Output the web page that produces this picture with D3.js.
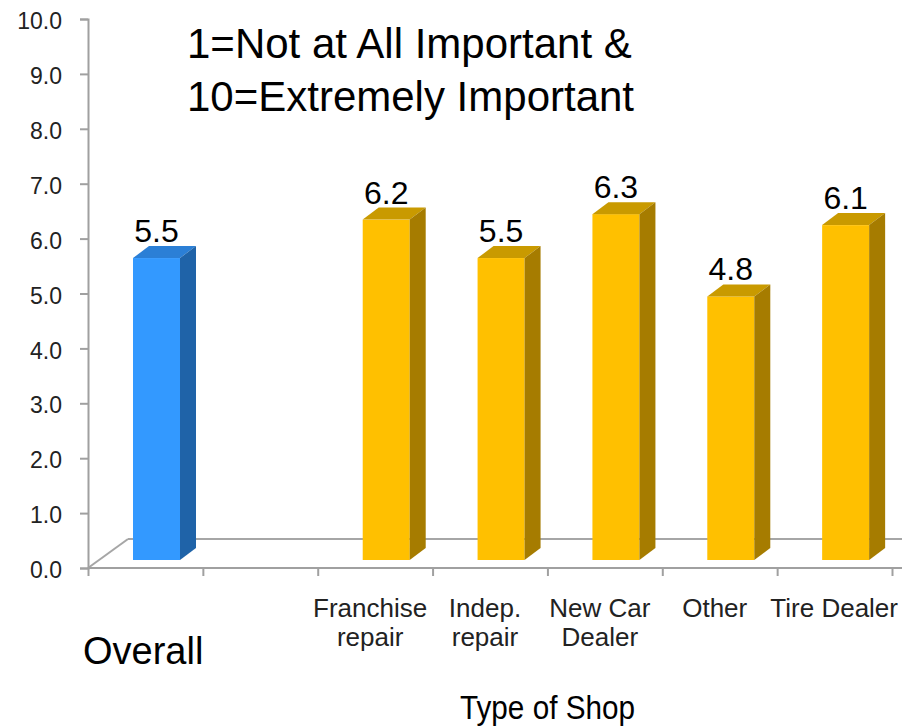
<!DOCTYPE html>
<html lang="en">
<head>
    <meta charset="UTF-8">
    <title>Importance by Type of Shop</title>
    <script src="https://cdnjs.cloudflare.com/ajax/libs/d3/7.8.5/d3.min.js"></script>
</head>
<style>
    body{
        margin:0;
        background:#fff;
    }
    #chart text{
        font-family:"Liberation Sans", Arial, sans-serif;
        fill:#000;
    }
</style>
<body>
<div id="chart"></div>
</body>
</html>
<script>
    // chart values
    var shopTypes = ["Franchise repair", "Indep. repair", "New Car Dealer", "Other", "Tire Dealer"];
    var shopScores = [6.2, 5.5, 6.3, 4.8, 6.1];
    var shopLabels = [["Franchise", "repair"], ["Indep.", "repair"], ["New Car", "Dealer"], ["Other"], ["Tire Dealer"]];
    var overallName = "Overall";
    var overallScore = 5.5;
    var yTicks = [0, 1, 2, 3, 4, 5, 6, 7, 8, 9, 10];
    var titleLines = ["1=Not at All Important &", "10=Extremely Important"];
    var axisTitle = "Type of Shop";

    (function(){
        var width = 902,
            height = 727;

        // 3d look: floor depth and bar depth
        var floorDx = 40, floorDy = -29,
            barOffY = -8,
            barDx = 16, barDy = -12,
            barW = 47;

        var svg = d3.select("#chart")
            .append("svg")
            .attr("width", width)
            .attr("height", height);

        var domain = [overallName, "_gap"].concat(shopTypes);
        var values = [overallScore, null].concat(shopScores);

        var x = d3.scaleBand()
            .domain(domain)
            .range([88, 892]);

        var y = d3.scaleLinear()
            .domain([0, 10])
            .range([568, 19]);

        // floor
        var floor = svg.append("g").attr("class", "floor");
        floor.append("line")
            .attr("x1", x.range()[0]).attr("y1", y(0))
            .attr("x2", x.range()[0] + floorDx).attr("y2", y(0) + floorDy);
        floor.append("line")
            .attr("x1", x.range()[0] + floorDx).attr("y1", y(0) + floorDy)
            .attr("x2", width).attr("y2", y(0) + floorDy);
        floor.selectAll("line")
            .style("stroke", "#a6a6a6")
            .style("stroke-width", 2);

        // bars
        var bars = svg.selectAll(".bar")
            .data(domain.map(function(d, i){ return {key: d, value: values[i], overall: i === 0}; })
                .filter(function(d){ return d.value !== null; }))
            .enter().append("g")
            .attr("class", "bar");

        function front(d){ return x(d.key) + 45; }

        bars.append("rect")
            .attr("x", front)
            .attr("y", function(d){ return y(d.value) + barOffY; })
            .attr("width", barW)
            .attr("height", function(d){ return y(0) - y(d.value); })
            .style("fill", function(d){ return d.overall ? "#3399ff" : "#ffc000"; });

        bars.append("polygon")
            .attr("points", function(d){
                var x0 = front(d), yt = y(d.value) + barOffY;
                return [[x0, yt], [x0 + barDx, yt + barDy], [x0 + barW + barDx, yt + barDy], [x0 + barW, yt]].join(" ");
            })
            .style("fill", function(d){ return d.overall ? "#2b7fd6" : "#c99a00"; });

        bars.append("polygon")
            .attr("points", function(d){
                var x0 = front(d) + barW, yt = y(d.value) + barOffY, yb = y(0) + barOffY;
                return [[x0, yt], [x0 + barDx, yt + barDy], [x0 + barDx, yb + barDy], [x0, yb]].join(" ");
            })
            .style("fill", function(d){ return d.overall ? "#1f63a8" : "#a67c00"; });

        bars.append("text")
            .attr("x", function(d){ return front(d) + barW / 2; })
            .attr("y", function(d){ return y(d.value) + barOffY + barDy - 4; })
            .attr("text-anchor", "middle")
            .style("font-size", "32px")
            .text(function(d){ return d3.format(".1f")(d.value); });

        // y axis
        var yAxis = svg.append("g")
            .attr("transform", "translate(" + x.range()[0] + ",0)")
            .call(d3.axisLeft(y).tickValues(yTicks).tickSize(8).tickPadding(18).tickFormat(d3.format(".1f")));
        yAxis.selectAll("text")
            .attr("dy", "0.42em")
            .style("font-size", "23px")
            .style("fill", "#222");

        // x axis with ticks on band edges
        var edges = d3.scaleLinear().domain([0, domain.length]).range(x.range());
        var xAxis = svg.append("g")
            .attr("transform", "translate(0," + y(0) + ")")
            .call(d3.axisBottom(edges).tickValues(d3.range(domain.length + 1)).tickSize(8).tickFormat(""));
        xAxis.select(".domain").attr("d", "M" + x.range()[0] + ",0H" + width);

        svg.selectAll(".domain, .tick line")
            .style("stroke", "#a0a0a0")
            .style("stroke-width", 2);

        // category labels
        var cats = svg.selectAll(".cat")
            .data(shopTypes)
            .enter().append("text")
            .attr("class", "cat")
            .attr("x", function(d, i){ return i === shopTypes.length - 1 ? width - 4 : x(d) + x.bandwidth() / 2 - 5; })
            .attr("y", 617)
            .attr("text-anchor", function(d, i){ return i === shopTypes.length - 1 ? "end" : "middle"; })
            .style("font-size", "26px")
            .style("fill", "#222");
        cats.selectAll("tspan")
            .data(function(d, i){ return shopLabels[i]; })
            .enter().append("tspan")
            .attr("x", function(){ return d3.select(this.parentNode).attr("x"); })
            .attr("dy", function(d, i){ return i === 0 ? 0 : 29; })
            .text(function(d){ return d; });

        svg.append("text")
            .attr("x", 83)
            .attr("y", 664)
            .style("font-size", "38px")
            .text(overallName);

        // narrow box on the slide, text squeezed a bit
        svg.append("text")
            .attr("x", 460)
            .attr("y", 719)
            .attr("textLength", 175)
            .attr("lengthAdjust", "spacingAndGlyphs")
            .style("font-size", "34px")
            .text(axisTitle);

        // note on scale
        svg.selectAll(".note")
            .data(titleLines)
            .enter().append("text")
            .attr("class", "note")
            .attr("x", 187)
            .attr("y", function(d, i){ return 58 + i * 53; })
            .style("font-size", "42px")
            .text(function(d){ return d; });
    }());
</script>
